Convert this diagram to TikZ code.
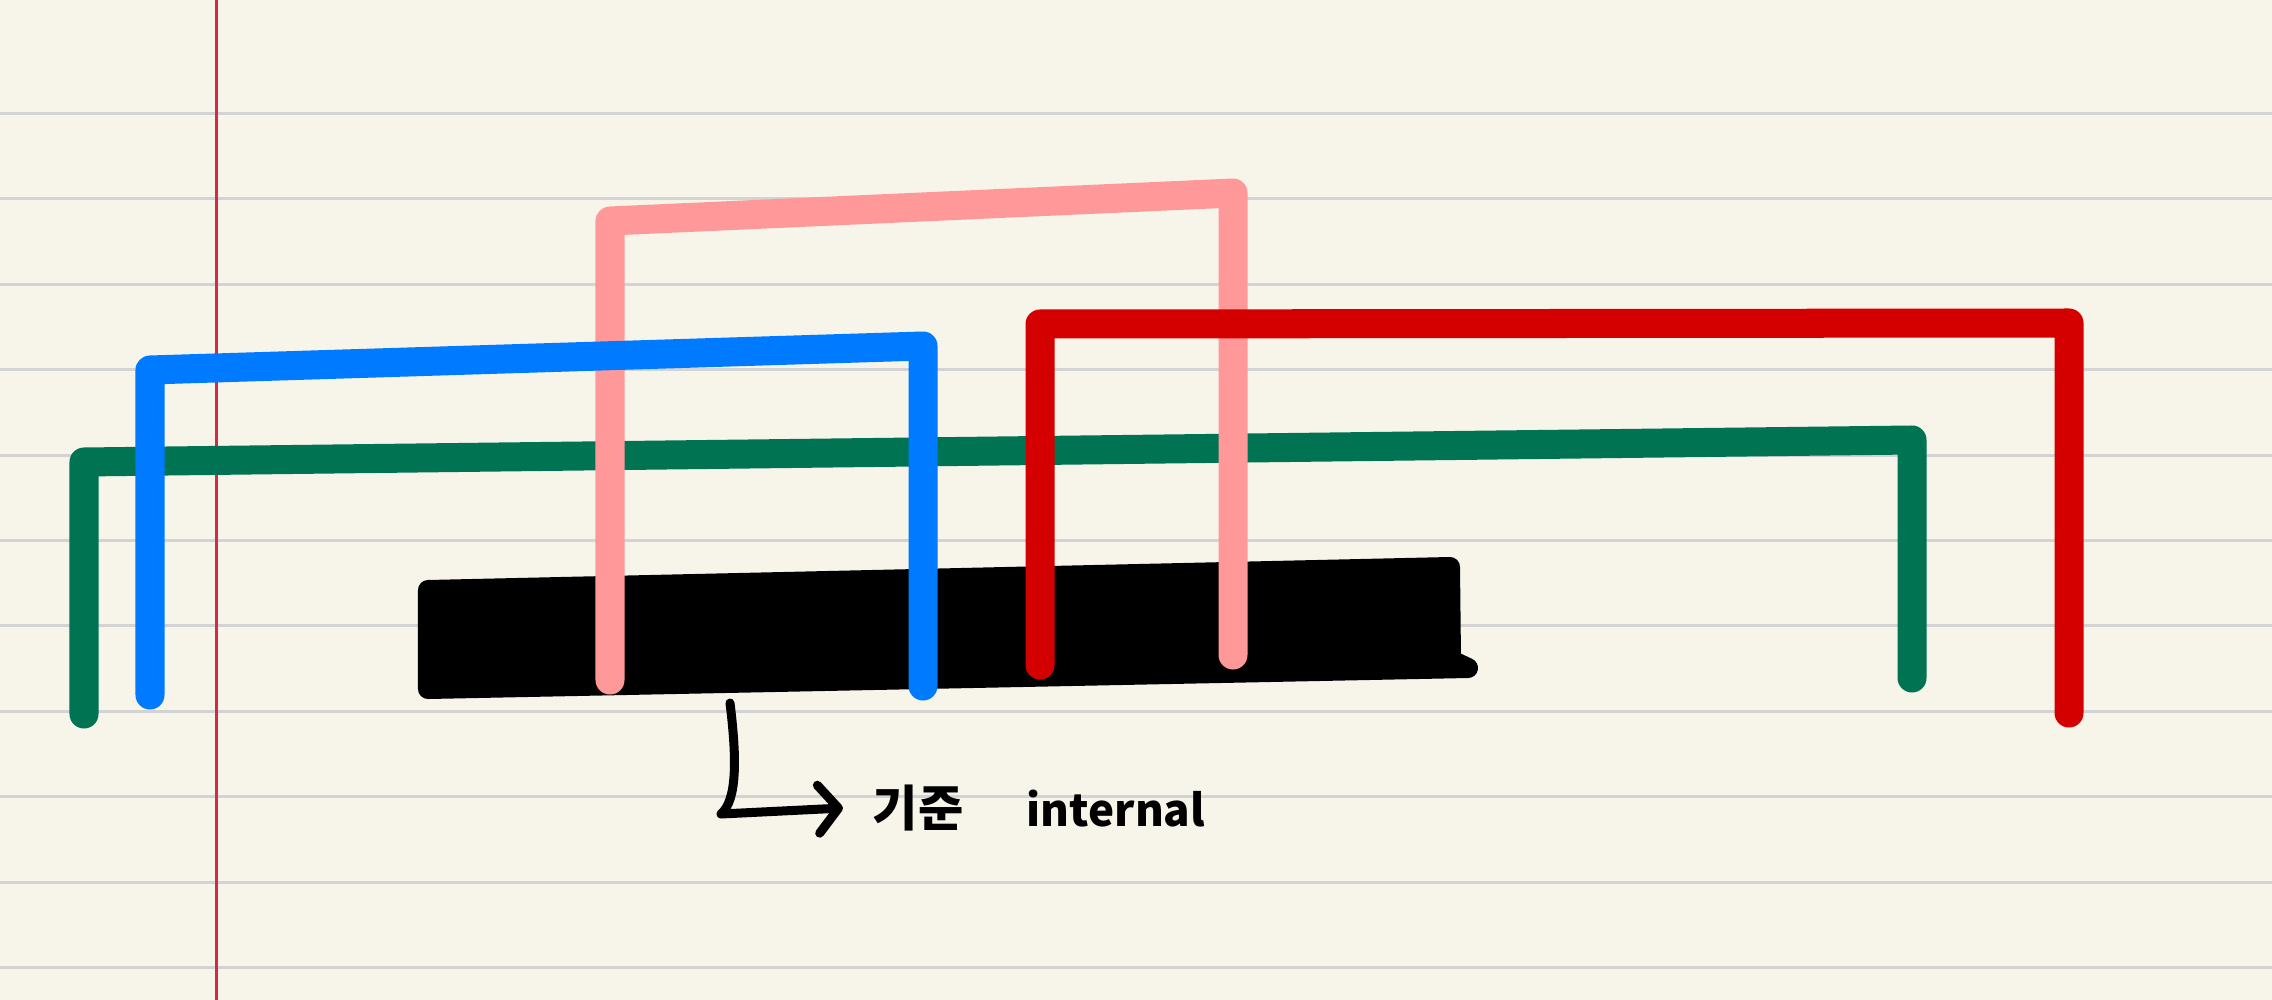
\documentclass[tikz,border=0pt]{standalone}
\usepackage{fontspec}
\usepackage{xcolor}
\usepackage{tikz}
\usetikzlibrary{arrows.meta, positioning}
\newfontfamily\krfont{Noto Sans CJK KR}
\definecolor{paper}{RGB}{247,245,234}
\definecolor{ruleGray}{RGB}{211,211,211}
\definecolor{marginRed}{RGB}{214,40,72}
\definecolor{barGreen}{RGB}{0,115,82}
\definecolor{barBlue}{RGB}{0,122,255}
\definecolor{barPink}{RGB}{255,153,153}
\definecolor{barRed}{RGB}{212,0,0}

\begin{document}
\begin{tikzpicture}[x=0.01cm, y=-0.01cm,
    bar/.style={line width=0.29cm, line cap=round, line join=round},
    hand/.style={line width=0.09cm, line cap=round, line join=round},
    note/.style={inner sep=0pt, font=\krfont\bfseries\fontsize{14}{16}\selectfont}]
        \useasboundingbox (0,0) rectangle (2272,1000);
        % paper
        \fill[paper] (0,0) rectangle (2272,1000);
        \foreach \k in {0,...,10}
            \draw[ruleGray, line width=0.03cm] (0,113.5+85.4*\k) -- (2272,113.5+85.4*\k);
        \draw[marginRed, line width=0.03cm] (216,0) -- (216,1000);

        % blacked out block
        \filldraw[line width=0.2cm, line join=round] (428,590) -- (1450,567) -- (1451,660) -- (1468,668) -- (428,689) -- cycle;

        % brackets
        \draw[bar, barGreen] (84,714) -- (84,462) -- (1912,440) -- (1912,678);
        \draw[bar, barPink] (610,680) -- (610,221) -- (1233,193) -- (1233,655);
        \draw[bar, barBlue] (150,695) -- (150,370) -- (923,346) -- (923,686);
        \draw[bar, barRed] (1040,665) -- (1040,324) -- (2069,323) -- (2069,713);

        % note below
        \coordinate (hook) at (730,703);
        \coordinate (tip) at (843,808);
        \node[note, right=0.29cm of tip] (kijun) {기준};
        \node[note, base right=0.62cm of kijun, font=\krfont\bfseries\fontsize{12.5}{15}\selectfont] (internal) {internal};
        \draw[hand, -{Straight Barb[length=0.2cm, width=0.48cm, round]}] (hook) .. controls (737,760) and (737,800) .. (721,814) -- (tip);
\end{tikzpicture}
\end{document}
